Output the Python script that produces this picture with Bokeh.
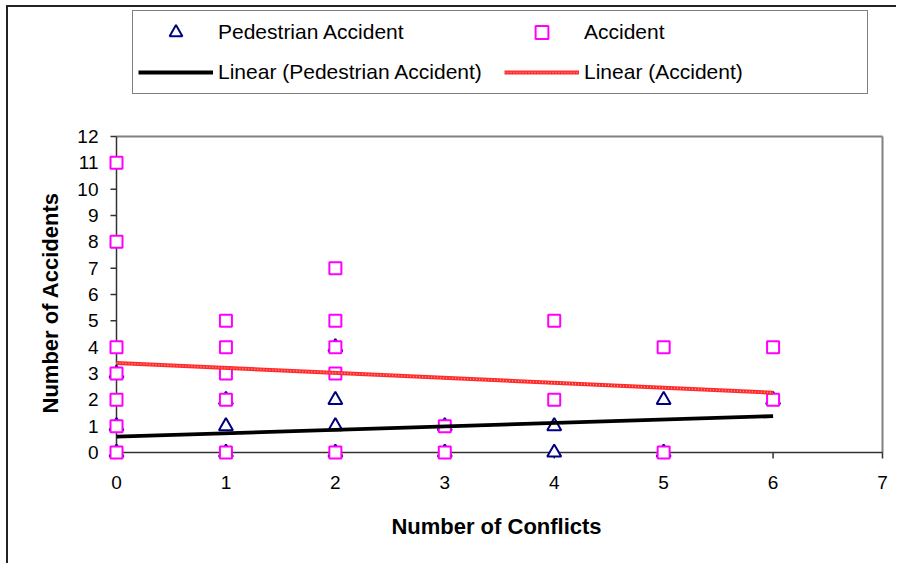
from bokeh.plotting import figure
from bokeh.models import Range1d, FixedTicker, Legend, LegendItem, Title
from bokeh.embed import file_html
from bokeh.resources import INLINE

# ---- data ----
acc_conflicts = [0, 0, 0, 0, 0, 0, 0, 1, 1, 1, 1, 1, 2, 2, 2, 2, 2, 3, 3, 4, 4, 5, 5, 6, 6]
acc_counts    = [11, 8, 4, 3, 2, 1, 0, 5, 4, 3, 2, 0, 7, 5, 4, 3, 0, 1, 0, 5, 2, 4, 0, 4, 2]
ped_conflicts = [0, 0, 0, 1, 1, 1, 2, 2, 2, 2, 3, 3, 4, 4, 5, 5, 6]
ped_counts    = [0, 1, 3, 0, 1, 2, 0, 1, 2, 4, 0, 1, 0, 1, 0, 2, 2]
trend_x = [0, 6]
ped_trend = [0.6, 1.38]
acc_trend = [3.4, 2.27]
x_ticks = [0, 1, 2, 3, 4, 5, 6, 7]
y_ticks = [0, 1, 2, 3, 4, 5, 6, 7, 8, 9, 10, 11, 12]
x_max, y_max = 7, 12

FONT = "Liberation Sans"

# pixel scale of the frame (px per data unit)
ux = 109.43
uy = 26.333
fw, fh = 778, 451
x0 = -9 / ux
y0 = -9 / uy

p = figure(width=890, height=558, output_backend="svg", toolbar_location=None,
           x_range=Range1d(x0, x0 + fw / ux), y_range=Range1d(y0, y0 + fh / uy),
           min_border_left=99, min_border_top=3, min_border_right=13, min_border_bottom=104)
p.styles = {"border-left": "2px solid #222", "border-top": "2px solid #222",
            "margin-left": "6px", "margin-top": "5px"}
p.outline_line_color = None
p.xgrid.visible = False
p.ygrid.visible = False
p.background_fill_color = "white"
p.border_fill_color = "white"

for ax, ticks in ((p.xaxis, x_ticks), (p.yaxis, y_ticks)):
    ax.ticker = FixedTicker(ticks=ticks)
    ax.axis_line_color = None
    ax.major_tick_line_color = None
    ax.minor_tick_line_color = None
    ax.major_tick_in = 0
    ax.major_tick_out = 0
    ax.major_label_text_font = FONT
    ax.major_label_text_font_size = "19px"
    ax.major_label_text_color = "black"
    ax.axis_label_text_font = FONT
    ax.axis_label_text_font_size = "22px"
    ax.axis_label_text_font_style = "bold"
    ax.axis_label_text_color = "black"

p.xaxis.axis_label = "Number of Conflicts"
p.xaxis.major_label_standoff = 14
p.yaxis.major_label_standoff = 9
p.xaxis.axis_label_standoff = 22

ytitle = Title(text="Number of  Accidents", align="left", offset=48, vertical_align="middle",
               standoff=22, text_font=FONT, text_font_size="22px", text_font_style="bold",
               text_color="black")
p.add_layout(ytitle, "left")

# frame borders (top/right gray)
p.segment(x0=[0, x_max], y0=[y_max, 0], x1=[x_max, x_max], y1=[y_max, y_max],
          line_color="#808080", line_width=2)
# axis lines
p.segment(x0=[0, 0], y0=[0, 0], x1=[x_max, 0], y1=[0, y_max], line_color="#333333", line_width=1.5)
# ticks
tl = 6
p.segment(x0=[-tl / ux] * len(y_ticks), y0=y_ticks, x1=[0] * len(y_ticks), y1=y_ticks,
          line_color="#333333", line_width=1.5)
p.segment(x0=x_ticks, y0=[-tl / uy] * len(x_ticks), x1=x_ticks, y1=[0] * len(x_ticks),
          line_color="#333333", line_width=1.5)

r_ped = p.scatter(ped_conflicts, ped_counts, marker="triangle", size=14,
                  line_color="#000080", line_width=2, fill_color="white")
r_acc = p.scatter(acc_conflicts, acc_counts, marker="square", size=12,
                  line_color="#ff00ff", line_width=2, fill_color="white")
r_lp = p.line(trend_x, ped_trend, line_color="black", line_width=3.8)
r_la = p.line(trend_x, acc_trend, line_color="#ff2a2a", line_width=4)
r_la2 = p.line(trend_x, acc_trend, line_color="#ff9a9a", line_width=1.5, line_dash="1 2")

legend = Legend(items=[
    LegendItem(label="Pedestrian Accident", renderers=[r_ped]),
    LegendItem(label="Accident", renderers=[r_acc]),
    LegendItem(label="Linear (Pedestrian Accident)", renderers=[r_lp]),
    LegendItem(label="Linear (Accident)", renderers=[r_la, r_la2]),
], orientation="horizontal", ncols=2, location=(25, 367),
    glyph_width=75, glyph_height=32, label_height=32, label_width=278,
    label_standoff=5, spacing=8, padding=5, margin=0,
    label_text_font=FONT, label_text_font_size="21px", label_text_color="black",
    border_line_color="black", border_line_width=1, background_fill_color="white",
    background_fill_alpha=1)
p.add_layout(legend, "center")

open("out.html", "w").write(file_html(p, INLINE))
